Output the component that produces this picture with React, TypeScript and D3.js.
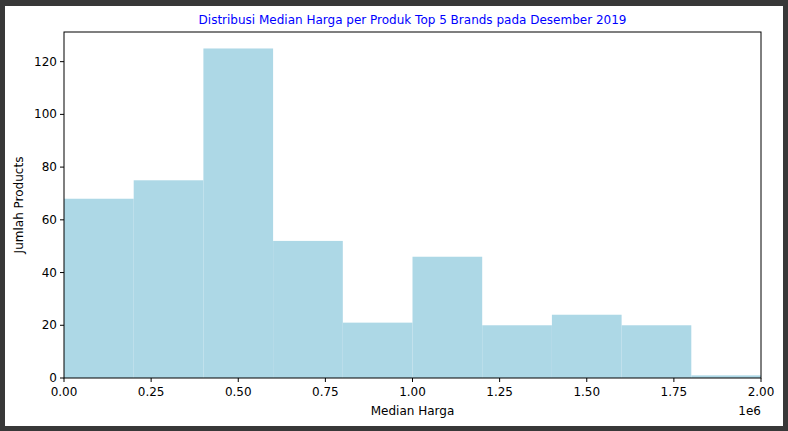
import React from "react";
import * as d3 from "d3";

const binEdges = [0, 0.2, 0.4, 0.6, 0.8, 1.0, 1.2, 1.4, 1.6, 1.8, 2.0];
const counts = [68, 75, 125, 52, 21, 46, 20, 24, 20, 1];
const xTicks = [0, 0.25, 0.5, 0.75, 1.0, 1.25, 1.5, 1.75, 2.0];
const yTicks = [0, 20, 40, 60, 80, 100, 120];

export default function App() {
  const W = 788, H = 431;
  const L = 64, R = 761, T = 32, B = 378;
  const x = d3.scaleLinear().domain([0, 2]).range([L, R]);
  const y = d3.scaleLinear().domain([0, 131.25]).range([B, T]);
  const font = "DejaVu Sans, sans-serif";
  return (
    <svg width={W} height={H} style={{ position: "absolute", left: 0, top: 0 }} fontFamily={font}>
      <rect x={0} y={0} width={W} height={H} fill="#383838" />
      <rect x={5} y={6} width={778} height={420} fill="#fff" />
      {counts.map((c, i) => (
        <rect key={i} x={x(binEdges[i])} y={y(c)} width={x(binEdges[i + 1]) - x(binEdges[i])}
          height={B - y(c)} fill="#add8e6" />
      ))}
      <rect x={L} y={T} width={R - L} height={B - T} fill="none" stroke="#000" strokeWidth={1} />
      {xTicks.map(t => (
        <g key={t}>
          <line x1={x(t)} x2={x(t)} y1={B} y2={B + 4} stroke="#000" />
          <text x={x(t)} y={B + 18} fontSize={12} textAnchor="middle">{t.toFixed(2)}</text>
        </g>
      ))}
      {yTicks.map(t => (
        <g key={t}>
          <line x1={L - 4} x2={L} y1={y(t)} y2={y(t)} stroke="#000" />
          <text x={L - 7} y={y(t) + 4} fontSize={12} textAnchor="end">{t}</text>
        </g>
      ))}
      <text x={761} y={415} fontSize={12} textAnchor="end">1e6</text>
      <text x={(L + R) / 2} y={415} fontSize={12} textAnchor="middle">Median Harga</text>
      <text transform={`translate(23,${(T + B) / 2}) rotate(-90)`} fontSize={12} textAnchor="middle">Jumlah Products</text>
      <text x={(L + R) / 2} y={24} fontSize={12} textAnchor="middle" fill="#0000ff">Distribusi Median Harga per Produk Top 5 Brands pada Desember 2019</text>
    </svg>
  );
}
